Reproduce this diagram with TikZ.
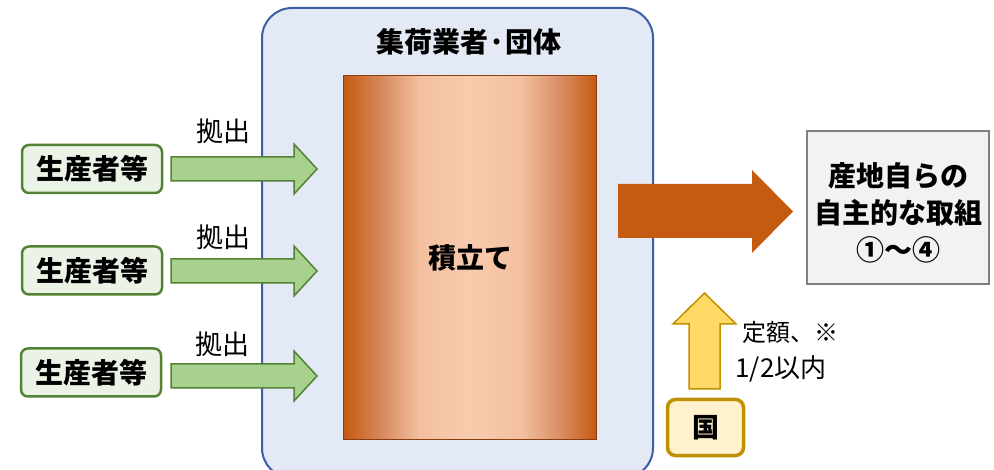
\documentclass[tikz,border=0pt]{standalone}
\usepackage{fontspec}
\setmainfont{Noto Sans CJK JP}
\definecolor{contfill}{HTML}{E3E9F5}
\definecolor{contdraw}{HTML}{3B5EA6}
\definecolor{grfill}{HTML}{A9D18E}
\definecolor{grdraw}{HTML}{548235}
\definecolor{grlight}{HTML}{EBF3E6}
\definecolor{ordark}{HTML}{C55A11}
\definecolor{orlight}{HTML}{F8CBAD}
\definecolor{ormid}{HTML}{F3C0A0}
\definecolor{orside}{HTML}{D98C62}
\definecolor{brdraw}{HTML}{8B3E10}
\definecolor{gyfill}{HTML}{F2F2F2}
\definecolor{gydraw}{HTML}{7F7F7F}
\definecolor{yefill}{HTML}{FFD966}
\definecolor{yedraw}{HTML}{BF9000}
\definecolor{yelight}{HTML}{FFF2CC}
\pgfdeclarehorizontalshading{tumitate}{100bp}{color(0bp)=(ordark); color(25bp)=(ordark); color(33bp)=(orside); color(40bp)=(ormid); color(50bp)=(orlight); color(60bp)=(ormid); color(68bp)=(orside); color(75bp)=(ordark); color(100bp)=(ordark)}
\tikzset{
  bigtxt/.style={font=\bfseries\fontsize{28}{34}\selectfont},
  regtxt/.style={font=\fontsize{27}{32}\selectfont},
  producer/.style={draw=grdraw, fill=grlight, line width=2.5pt, rounded corners=7pt,
    minimum width=140pt, minimum height=48pt, inner sep=0pt, bigtxt},
  grarrow/.style={draw=grdraw, fill=grfill, line width=1.5pt, line join=miter},
}
\begin{document}
\begin{tikzpicture}[x=1pt,y=-1pt]
\useasboundingbox (0,0) rectangle (994,470);
\clip (0,0) rectangle (994,470);
% container
\draw[draw=contdraw, fill=contfill, line width=2pt, rounded corners=30pt] (262,8) rectangle (653,478);
\node[bigtxt] (title) at (469,42) {集荷業者·団体};
% fund
\node[draw=brdraw, line width=1.5pt, shade, shading=tumitate, minimum width=253pt, minimum height=364pt, inner sep=0pt, bigtxt] (fund) at (470,257.5) {積立て};
% producers
\node[producer] (p1) at (92,169) {生産者等};
\node[producer] (p2) at (92,270.5) {生産者等};
\node[producer] (p3) at (91,372.5) {生産者等};
% green arrows
\foreach \c/\n in {169/a1, 271/a2, 376/a3}{
  \draw[grarrow] (171,\c-12) -- (294,\c-12) -- (294,\c-25) -- (317,\c) -- (294,\c+25) -- (294,\c+12) -- (171,\c+12) -- cycle;
}
\node[regtxt] (l1) at (223,131) {拠出};
\node[regtxt] (l2) at (223,237) {拠出};
\node[regtxt] (l3) at (222,344) {拠出};
% orange arrow
\fill[ordark] (618,184) -- (752,184) -- (752,170) -- (793,211.5) -- (752,253) -- (752,238) -- (618,238) -- cycle;
% goal box
\node[draw=gydraw, fill=gyfill, line width=2.5pt, minimum width=182pt, minimum height=153pt, inner sep=0pt] (goal) at (898,207.5) {};
\node[align=center, font=\bfseries\fontsize{28}{37}\selectfont] (goaltxt) at ([yshift=-5pt]goal.center) {産地自らの\\自主的な取組\\①～④};
% yellow arrow
\draw[draw=yedraw, fill=yefill, line width=1.5pt, line join=miter] (689,389) -- (689,324) -- (673,324) -- (704.5,293) -- (736,324) -- (720,324) -- (720,389) -- cycle;
% country
\node[draw=yedraw, fill=yelight, line width=3.5pt, rounded corners=8pt, minimum width=76pt, minimum height=56pt, inner sep=0pt, font=\bfseries\fontsize{27}{32}\selectfont] (kuni) at (705.5,427.5) {国};
\node[font=\fontsize{24}{29}\selectfont] (rate1) at (790,332) {定額、※};
\node[font=\fontsize{26}{31}\selectfont] (rate2) at (781,369) {1/2以内};
\end{tikzpicture}
\end{document}
